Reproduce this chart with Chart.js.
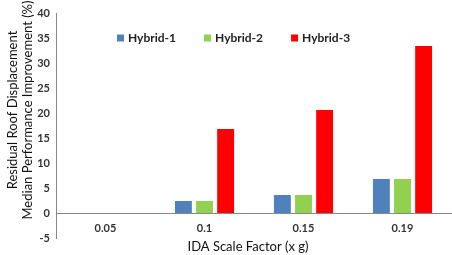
<!DOCTYPE html>
<html>
<head>
<meta charset="utf-8">
<script src="https://cdn.jsdelivr.net/npm/chart.js@4.4.0/dist/chart.umd.min.js"></script>
<style>
  html,body{margin:0;padding:0;background:#fff;}
  #wrap{position:relative;width:452px;height:255px;}
</style>
</head>
<body>
<div id="wrap"><canvas id="chart" width="452" height="255"></canvas></div>
<script>
// --- donnees ---
const categories=["0.05","0.1","0.15","0.19"];
const hybrid1=[0,2.4,3.6,6.8];
const hybrid2=[0,2.4,3.6,6.8];
const hybrid3=[0,16.8,20.6,33.4];
const seriesNames=["Hybrid-1","Hybrid-2","Hybrid-3"];
const yTicks=[40,35,30,25,20,15,10,5,0,-5];
const yTitle=["Residual Roof Displacement","Median Performance Improvement (%)"];
const xTitle="IDA Scale Factor (x g)";

const colors=["#4F81BD","#92D050","#FF0000"];
const FONT="Lato, 'Open Sans', sans-serif";

// legende dessinee dans la zone du graphe
const innerLegend={
  id:'innerLegend',
  afterDraw(chart){
    const ctx=chart.ctx;
    ctx.save();
    ctx.font="bold 12px "+FONT;
    ctx.textBaseline='middle';
    let x=117, y=38;
    chart.data.datasets.forEach(ds=>{
      ctx.fillStyle=ds.backgroundColor;
      ctx.fillRect(x,y-3.5,7,7);
      ctx.fillStyle='#222';
      ctx.fillText(ds.label,x+11,y+0.5);
      x+=11+ctx.measureText(ds.label).width+28;
    });
    ctx.restore();
  }
};

// titres des axes (Y sur deux lignes, tourne)
const axisTitles={
  id:'axisTitles',
  afterDraw(chart){
    const ctx=chart.ctx;
    ctx.save();
    ctx.font="13px "+FONT;
    ctx.fillStyle='#111';
    ctx.textAlign='center';
    ctx.textBaseline='middle';
    ctx.fillText(xTitle,248,247);
    ctx.translate(0,110);
    ctx.rotate(-Math.PI/2);
    ctx.fillText(yTitle[0],0,13);
    ctx.fillText(yTitle[1],0,27.5);
    ctx.restore();
  }
};

new Chart(document.getElementById("chart").getContext("2d"),{
  type:'bar',
  data:{
    labels:categories,
    datasets:[
      {label:seriesNames[0],data:hybrid1,backgroundColor:colors[0]},
      {label:seriesNames[1],data:hybrid2,backgroundColor:colors[1]},
      {label:seriesNames[2],data:hybrid3,backgroundColor:colors[2]}
    ]
  },
  options:{
    responsive:false,
    animation:false,
    layout:{padding:{top:13,bottom:17,right:0,left:0}},
    datasets:{bar:{categoryPercentage:0.64,barPercentage:0.8}},
    plugins:{legend:{display:false},tooltip:{enabled:false}},
    scales:{
      x:{
        position:{y:0},
        grid:{display:false,drawTicks:false},
        border:{color:'#888',width:1},
        ticks:{color:'#333',font:{family:FONT,size:11,weight:'bold'},padding:9}
      },
      y:{
        min:-5,max:40,
        afterBuildTicks(s){ s.ticks=yTicks.map(v=>({value:v})); },
        afterFit(s){ s.width=56; },
        grid:{display:false,drawTicks:false},
        border:{color:'#888',width:1},
        ticks:{color:'#333',font:{family:FONT,size:11,weight:'bold'},padding:6}
      }
    }
  },
  plugins:[innerLegend,axisTitles]
});
</script>
</body>
</html>
